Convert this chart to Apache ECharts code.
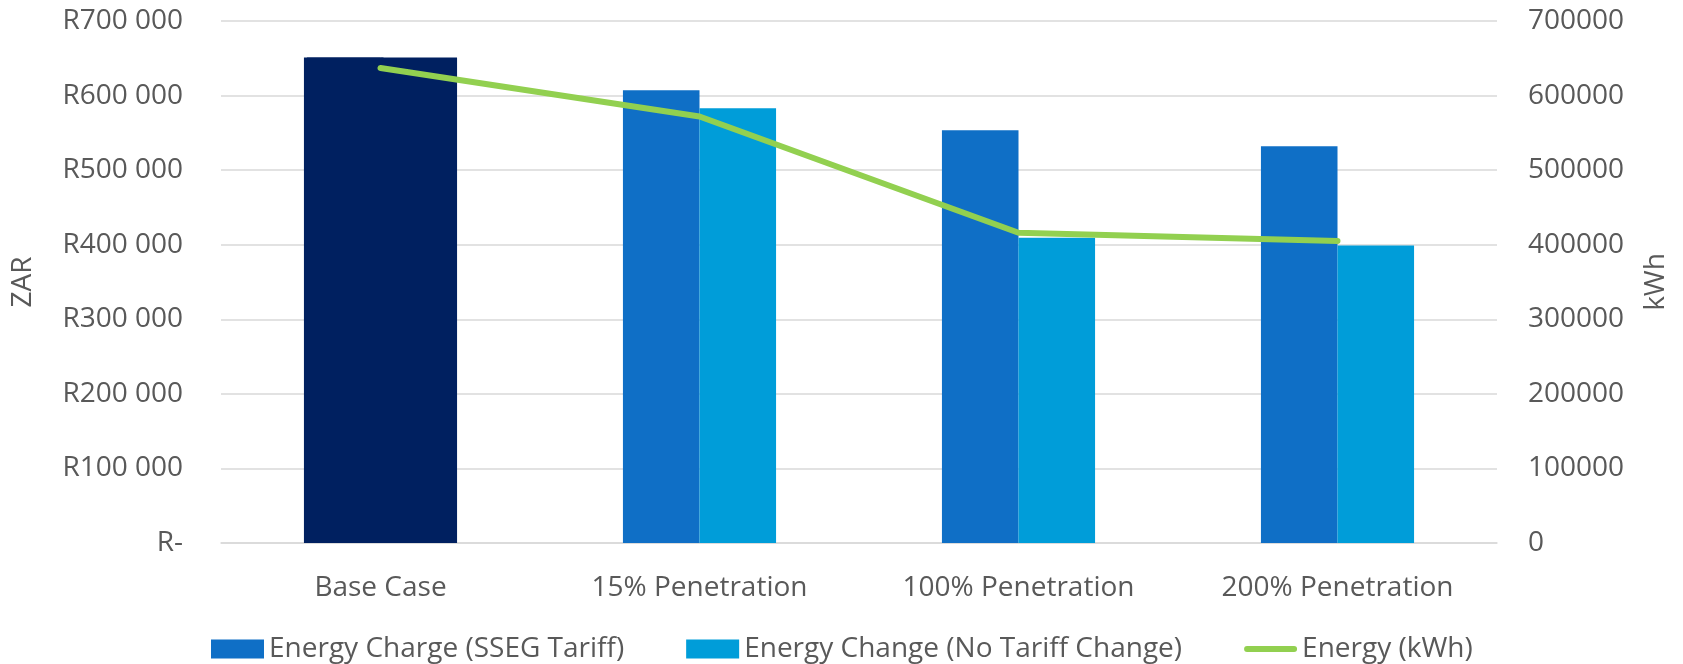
<!DOCTYPE html>
<html>
<head>
<meta charset="utf-8">
<title>Energy charge by SSEG penetration</title>
<script src="https://cdn.jsdelivr.net/npm/echarts@6/dist/echarts.min.js"></script>
<style>
  html, body { margin: 0; padding: 0; background: #ffffff; }
  #chart { width: 1683px; height: 664px; }
</style>
</head>
<body>
<div id="chart"></div>
<script>
// Scenarios on the category axis
const categories = ['Base Case', '15% Penetration', '100% Penetration', '200% Penetration'];

// Monthly energy charge in rand (left axis)
const sseqTariff = [651000, 607000, 553500, 532000];
const noTariffChange = [651000, 583000, 409500, 399000];

// Energy consumed in kWh (right axis)
const energyKwh = [637000, 572000, 416000, 405000];

// Axis tick values
const axisMax = 700000;
const axisStep = 100000;

const TEXT = '#595959';
const FONT = 'Open Sans';
const FS = 28;
const NAVY = '#002060';

function randLabel(v) {
  if (v === 0) return 'R-';
  const s = String(Math.round(v));
  return 'R' + s.replace(/\B(?=(\d{3})+(?!\d))/g, ' ');
}

// Base Case is drawn as one dark block across both bar slots; a hard
// navy shadow under the left half closes the anti-aliased seam.
function withBaseColour(values, closeSeam) {
  return values.map((v, i) => {
    if (i !== 0) return v;
    const style = { color: NAVY };
    if (closeSeam) {
      style.shadowColor = NAVY;
      style.shadowBlur = 0;
      style.shadowOffsetX = 3;
    }
    return { value: v, itemStyle: style };
  });
}

const chart = echarts.init(document.getElementById('chart'), null, { renderer: 'canvas' });

chart.setOption({
  animation: false,
  textStyle: { fontFamily: FONT },
  grid: { left: 221, right: 186, top: 21, bottom: 121 },
  legend: {
    left: 206,
    top: 630,
    itemWidth: 53,
    itemHeight: 19,
    itemGap: 62,
    textStyle: { color: TEXT, fontSize: FS, fontFamily: FONT },
    data: [
      { name: 'Energy Charge (SSEG Tariff)', icon: 'rect' },
      { name: 'Energy Change (No Tariff Change)', icon: 'rect' },
      { name: 'Energy (kWh)', icon: 'path://M3,0 H50 A3,3 0 0 1 50,6 H3 A3,3 0 0 1 3,0 Z' }
    ]
  },
  xAxis: {
    type: 'category',
    data: categories,
    axisLine: { lineStyle: { color: '#d9d9d9', width: 1.5 } },
    axisTick: { show: false },
    axisLabel: { color: TEXT, fontSize: FS, margin: 31, fontFamily: FONT }
  },
  yAxis: [
    {
      type: 'value',
      min: 0,
      max: axisMax,
      interval: axisStep,
      name: 'ZAR',
      nameLocation: 'middle',
      nameGap: 184,
      nameTextStyle: { color: TEXT, fontSize: FS, fontFamily: FONT },
      axisLine: { show: false },
      axisTick: { show: false },
      axisLabel: { color: TEXT, fontSize: FS, margin: 38, formatter: randLabel, fontFamily: FONT },
      splitLine: { lineStyle: { color: '#d9d9d9', width: 1.5 } }
    },
    {
      type: 'value',
      min: 0,
      max: axisMax,
      interval: axisStep,
      name: 'kWh',
      nameLocation: 'middle',
      nameGap: 145,
      nameTextStyle: { color: TEXT, fontSize: FS, fontFamily: FONT },
      axisLine: { show: false },
      axisTick: { show: false },
      axisLabel: { color: TEXT, fontSize: FS, margin: 31, fontFamily: FONT, formatter: v => String(v) },
      splitLine: { show: false }
    }
  ],
  series: [
    {
      name: 'Energy Charge (SSEG Tariff)',
      type: 'bar',
      yAxisIndex: 0,
      data: withBaseColour(sseqTariff, true),
      itemStyle: { color: '#0F6FC6' },
      barGap: '0%',
      barCategoryGap: '52%'
    },
    {
      name: 'Energy Change (No Tariff Change)',
      type: 'bar',
      yAxisIndex: 0,
      data: withBaseColour(noTariffChange, false),
      itemStyle: { color: '#009DD9' },
      barGap: '0%',
      barCategoryGap: '52%'
    },
    {
      name: 'Energy (kWh)',
      type: 'line',
      yAxisIndex: 1,
      data: energyKwh,
      symbol: 'none',
      itemStyle: { color: '#92D050' },
      lineStyle: { color: '#92D050', width: 6, cap: 'round', join: 'round' },
      z: 5
    }
  ]
});
</script>
</body>
</html>
